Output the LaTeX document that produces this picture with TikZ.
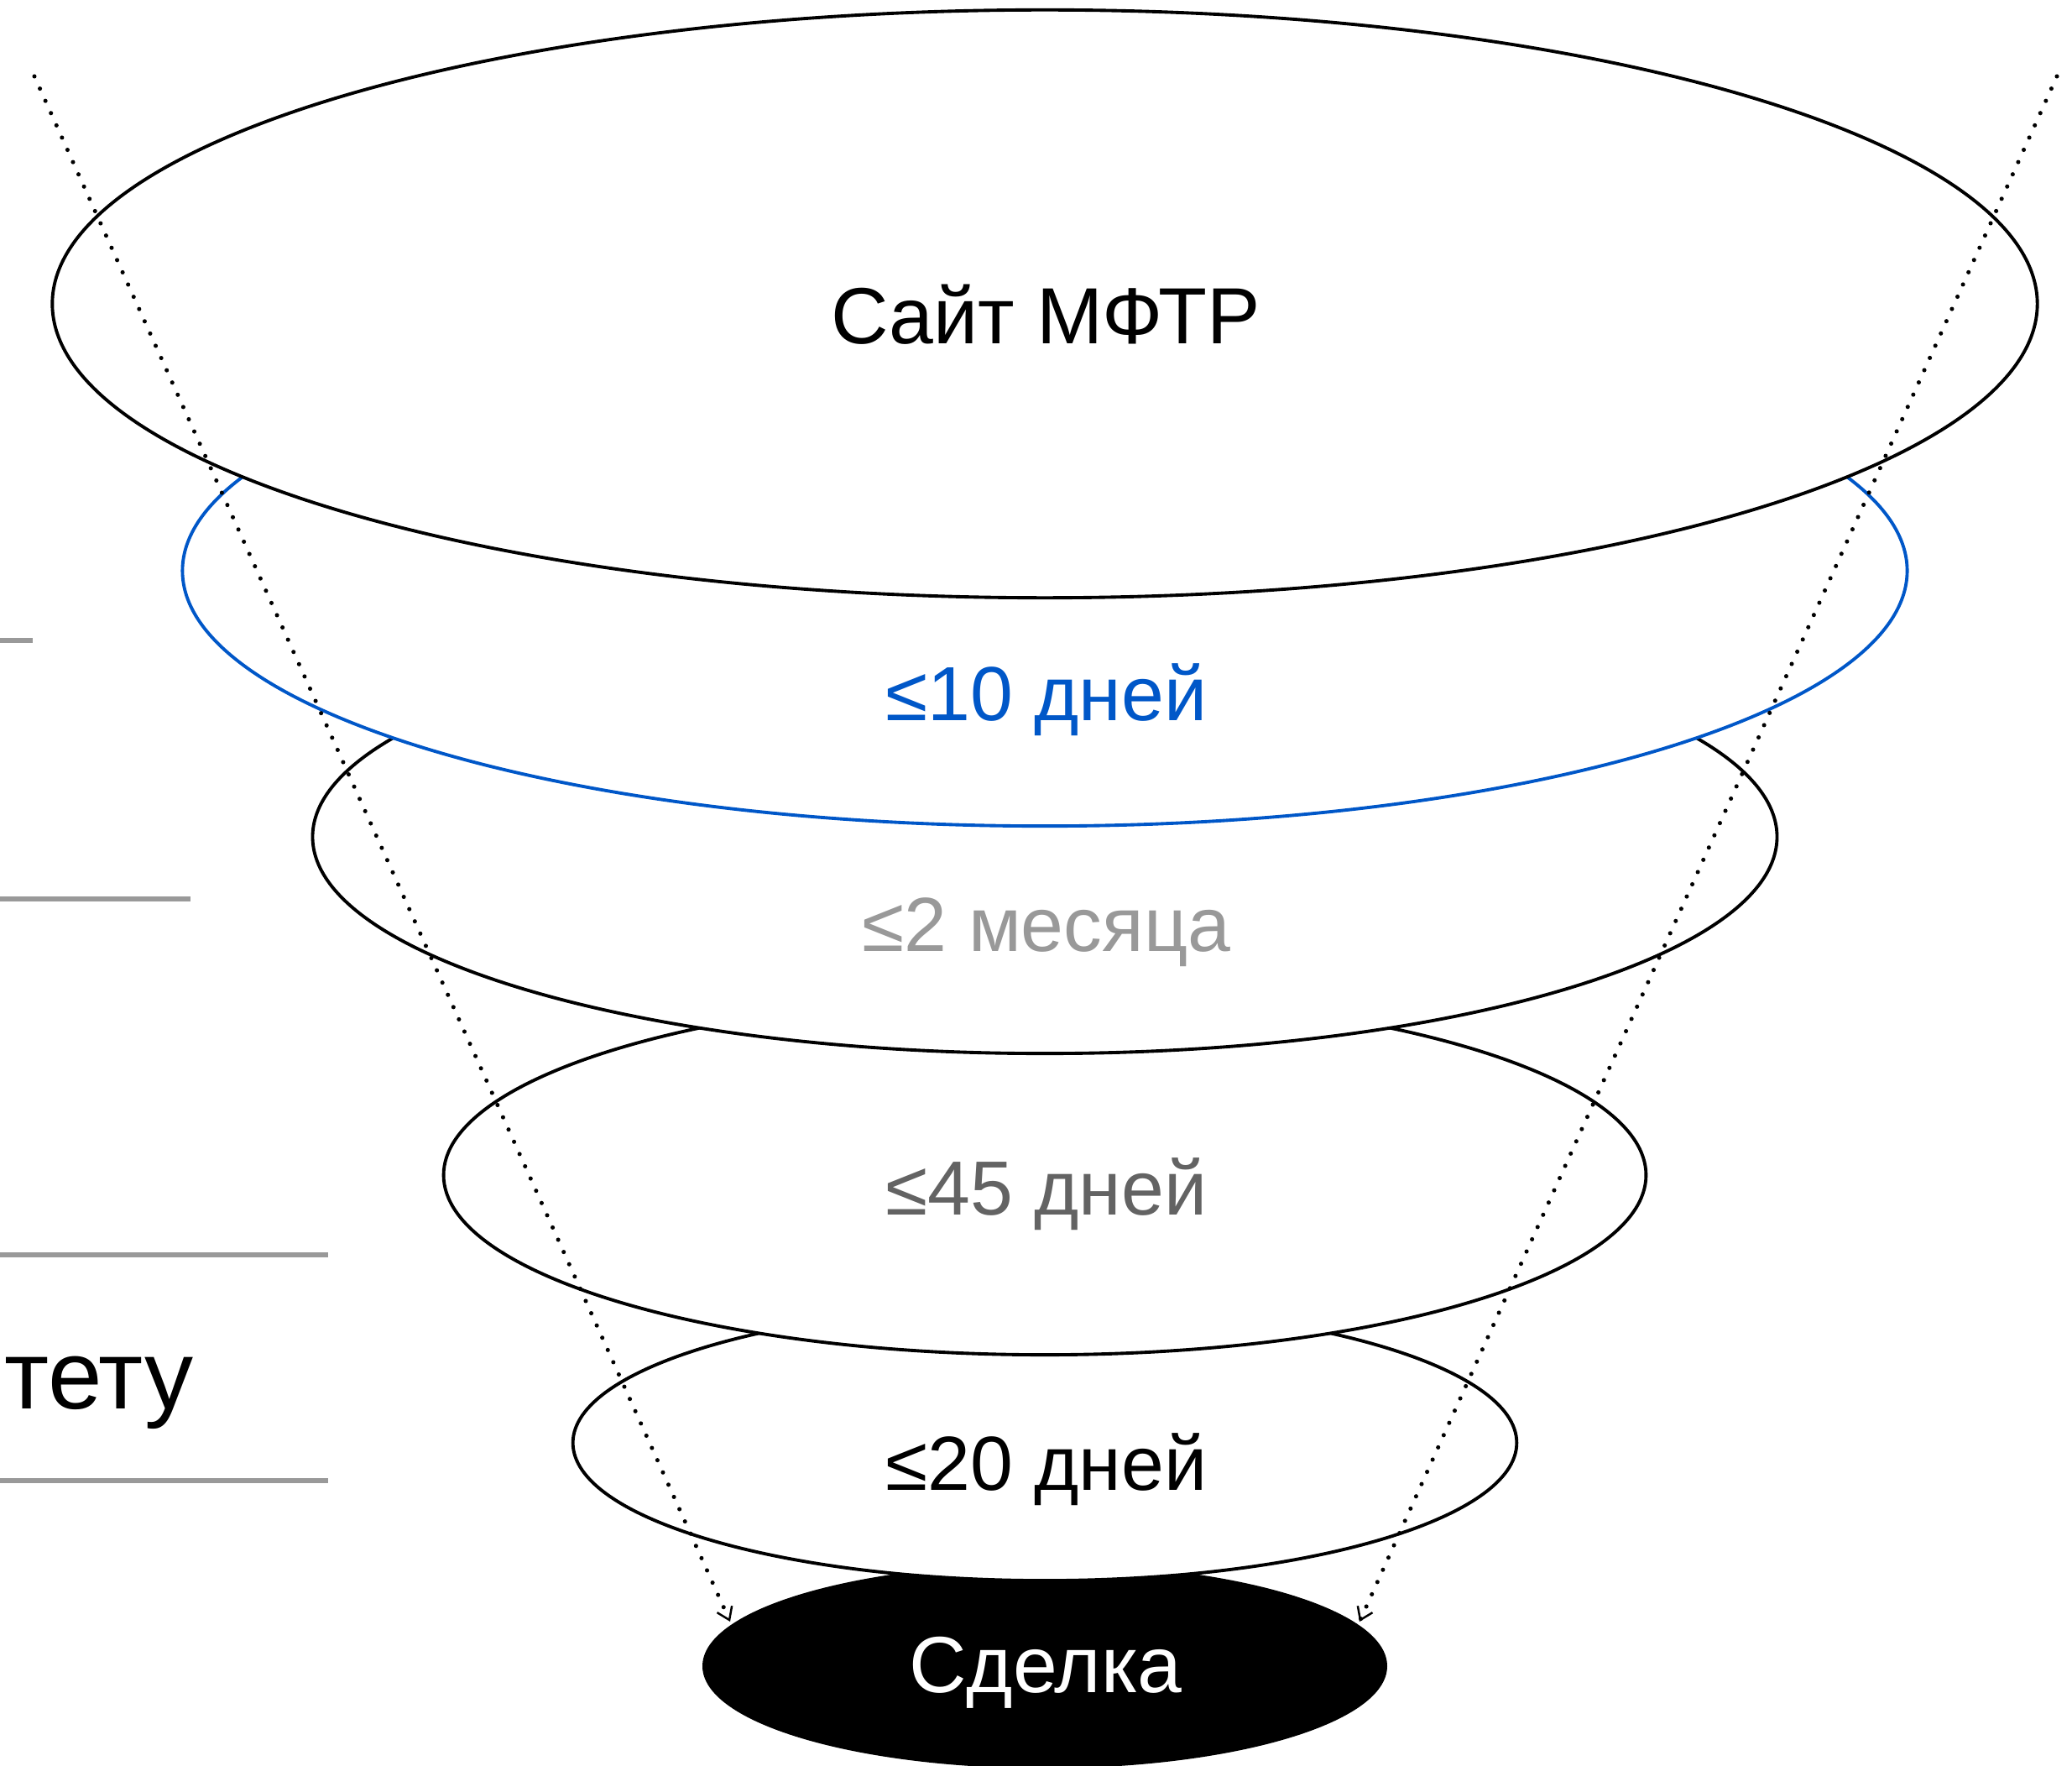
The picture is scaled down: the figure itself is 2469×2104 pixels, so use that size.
\documentclass[tikz,border=0pt]{standalone}
\usepackage{fontspec}
\setmainfont{Liberation Sans}
\usetikzlibrary{arrows.meta}
\definecolor{fblue}{HTML}{0057C8}
\definecolor{fgray}{HTML}{999999}
\definecolor{fdark}{HTML}{636363}
\begin{document}
\begin{tikzpicture}[x=0.01cm,y=-0.01cm,
  ring/.style={draw=black,line width=1.1pt,fill=white},
  lbl/.style={anchor=base,inner sep=0pt,font=\fontsize{26pt}{30pt}\selectfont},
  guide/.style={draw=fgray,line width=1.6pt},
  flow/.style={line width=1.45pt,line cap=round,dash pattern=on 0pt off 4.55pt,
    -{Straight Barb[length=4pt,width=5.5pt,line width=0.7pt]}}]
\useasboundingbox (0,0) rectangle (2469,2104);
% funnel rings, bottom first
\path[draw=black,fill=black,line width=1pt] (1245,1985) ellipse [x radius=4.06cm, y radius=1.2cm];
\path[ring] (1245,1719) ellipse [x radius=5.62cm, y radius=1.64cm];
\path[ring] (1245,1400) ellipse [x radius=7.16cm, y radius=2.14cm];
\path[ring] (1245,997) ellipse [x radius=8.72cm, y radius=2.58cm];
\path[ring,draw=fblue] (1245,680) ellipse [x radius=10.27cm, y radius=3.04cm];
\path[ring] (1245,362) ellipse [x radius=11.82cm, y radius=3.50cm];
% grey guide lines on the left
\draw[guide] (0,763) -- (39,763);
\draw[guide] (0,1071) -- (227,1071);
\draw[guide] (0,1495) -- (391,1495);
\draw[guide] (0,1764) -- (391,1764);
% labels
\node[lbl,font=\fontsize{27pt}{32pt}\selectfont] (site) at (1246,410) {Сайт МФТР};
\node[lbl,text=fblue] (d10) at (1247,859) {≤10 дней};
\node[lbl,text=fgray] (m2) at (1247,1134) {≤2 месяца};
\node[lbl,text=fdark] (d45) at (1247,1447) {≤45 дней};
\node[lbl] (d20) at (1247,1775) {≤20 дней};
\node[lbl,text=white,font=\fontsize{27pt}{32pt}\selectfont] (deal) at (1246,2016) {Сделка};
\node[lbl,anchor=base east,font=\fontsize{33pt}{38pt}\selectfont] (tail) at (231,1678) {тету};
% dotted flow lines
\coordinate (ltop) at (41,91);
\coordinate (lend) at (870,1932);
\coordinate (rtop) at (2451,91);
\coordinate (rend) at (1620,1932);
\draw[flow] (ltop) -- (lend);
\draw[flow] (rtop) -- (rend);
\end{tikzpicture}
\end{document}
